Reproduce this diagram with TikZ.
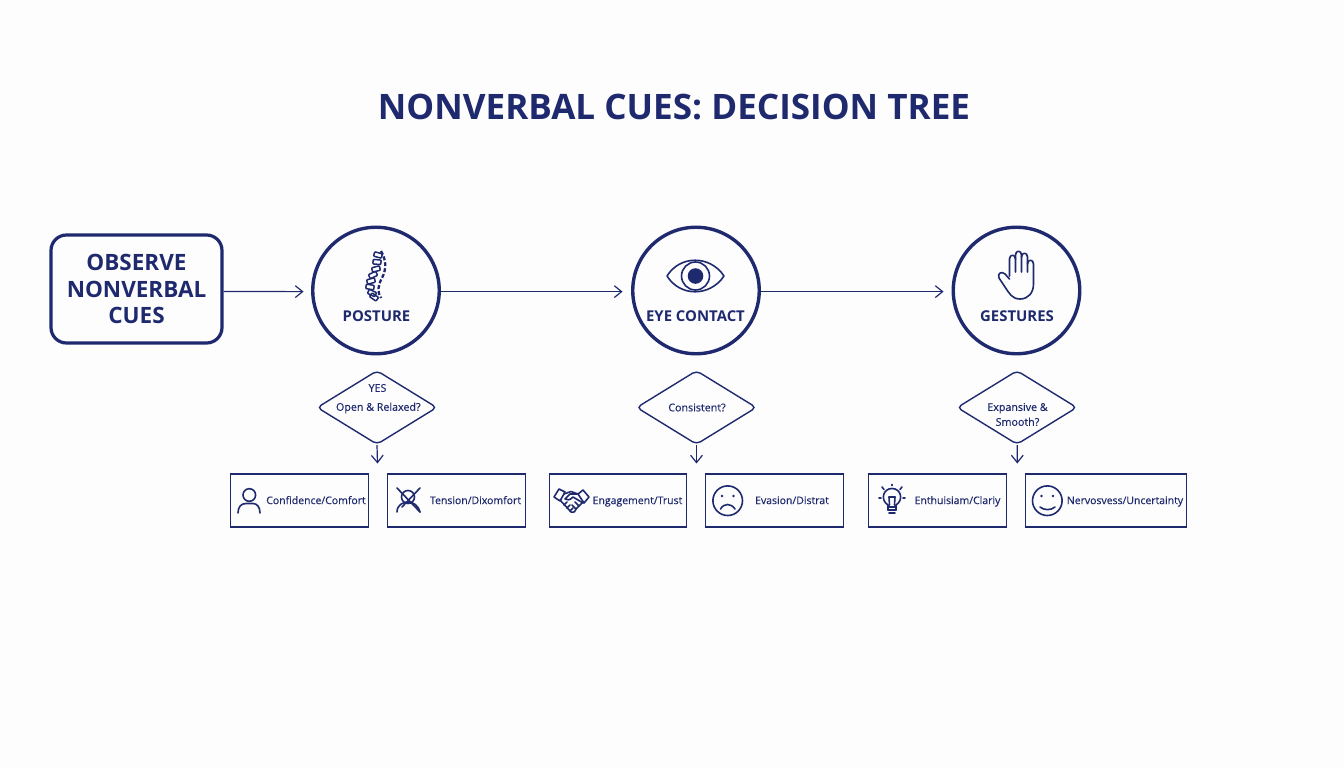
\documentclass[tikz,border=0pt]{standalone}
\usepackage{xcolor}
\usepackage{fontspec}
\setmainfont{Open Sans}
\newfontfamily\labelfont[FakeBold=0.35]{Open Sans}
\usetikzlibrary{shapes.geometric,arrows.meta}

\definecolor{navy}{HTML}{1F2A6E}
\definecolor{paper}{HTML}{FDFDFE}
\newcommand{\pxu}{0.0125cm}

\tikzset{
    cue/.style={circle,draw=navy,line width=3.4*\pxu,minimum size=126.5*\pxu,inner sep=0pt},
    question/.style={diamond,draw=navy,line width=1.4*\pxu,rounded corners=1.6pt,aspect=1.63,
        minimum width=120*\pxu,minimum height=74*\pxu,inner sep=0pt},
    questiontext/.style={text=navy,inner sep=0pt,align=center,font=\labelfont\fontsize{3.8}{5.3}\selectfont},
    outcome/.style={rectangle,draw=navy,line width=1.35*\pxu,minimum height=53*\pxu,inner sep=0pt},
    outcometext/.style={text=navy,inner sep=0pt,text height=3pt,text depth=0.8pt,font=\labelfont\fontsize{3.72}{5}\selectfont},
    cuetext/.style={text=navy,inner sep=0pt,font=\fontsize{5.3}{6}\selectfont\bfseries},
    flow/.style={draw=navy,line width=1.2*\pxu,-{Straight Barb[length=2.6pt,width=4.2pt]}},
    icon/.style={draw=navy,line width=1.6*\pxu,line cap=round,line join=round},
    vertebra/.style={draw=navy,line width=1.5*\pxu,rectangle,rounded corners=0.3pt,
        minimum width=8*\pxu,minimum height=4.5*\pxu,inner sep=0pt}
}

\begin{document}
\begin{tikzpicture}[x=\pxu,y=-\pxu]
    \fill[paper] (0,0) rectangle (1344,768);
    \useasboundingbox (0,0) rectangle (1344,768);

    \node[text=navy,inner sep=0pt,font=\fontsize{12.47}{14}\selectfont\bfseries] (title) at (674,107) {NONVERBAL CUES: DECISION TREE};

    \node[draw=navy,line width=3.2*\pxu,rounded corners=5.5pt,minimum width=171*\pxu,minimum height=108*\pxu,
        inner sep=0pt,text=navy,align=center,font=\fontsize{8}{9.5}\selectfont\bfseries] (start) at (136.5,289) {OBSERVE\\NONVERBAL\\CUES};

    % the three cues
    \node[cue] (posture) at (376,290.5) {};
    \node[cue] (eyecontact) at (696,290.5) {};
    \node[cue] (gestures) at (1016.5,290.5) {};
    \node[cuetext] (posturetext) at (376.5,316) {POSTURE};
    \node[cuetext] (eyetext) at (695.5,316) {EYE CONTACT};
    \node[cuetext] (gesturestext) at (1017,316) {GESTURES};

    \draw[flow,shorten >=7.5*\pxu] ([yshift=-0.9pt]start.east) -- ([yshift=-0.4pt]posture.west);
    \draw[flow,shorten >=8.5*\pxu] ([yshift=-0.4pt]posture.east) -- ([yshift=-0.4pt]eyecontact.west);
    \draw[flow,shorten >=8*\pxu] ([yshift=-0.4pt]eyecontact.east) -- ([yshift=-0.4pt]gestures.west);

    % questions
    \node[question] (postureq) at (377,407.5) {};
    \node[question] (eyeq) at (696.5,407.5) {};
    \node[question] (gesturesq) at (1017,407.5) {};
    \node[questiontext] (yes) at (377.5,388) {YES};
    \node[questiontext] (posturetext2) at (378.3,408) {Open \& Relaxed?};
    \node[questiontext] (eyetext2) at (697,407.5) {Consistent?};
    \node[questiontext] (gesturestext2) at (1017.5,414.5) {Expansive \&\\Smooth?};

    \coordinate (posturedown) at (377.5,463.5);
    \coordinate (eyedown) at (696.5,463.5);
    \coordinate (gesturesdown) at (1017.3,463.5);
    \draw[flow] (postureq.south) -- (posturedown);
    \draw[flow] (eyeq.south) -- (eyedown);
    \draw[flow] ([xshift=0.1pt]gesturesq.south) -- (gesturesdown);

    % outcomes
    \node[outcome,minimum width=138.5*\pxu] (confidence) at (299.5,500.5) {};
    \node[outcome,minimum width=137.5*\pxu] (tension) at (456.5,500.5) {};
    \node[outcome,minimum width=137.5*\pxu] (engagement) at (618,500.5) {};
    \node[outcome,minimum width=137.5*\pxu] (evasion) at (774.5,500.5) {};
    \node[outcome,minimum width=138*\pxu] (enthusiasm) at (937.5,500.5) {};
    \node[outcome,minimum width=160.5*\pxu] (nervousness) at (1106,500.5) {};
    \node[outcometext] (confidencetext) at (316,501) {Confidence/Comfort};
    \node[outcometext] (tensiontext) at (475.5,501) {Tension/Dixomfort};
    \node[outcometext] (engagementtext) at (637.5,501) {Engagement/Trust};
    \node[outcometext] (evasiontext) at (792,501) {Evasion/Distrat};
    \node[outcometext] (enthusiasmtext) at (957.5,501) {Enthuisiam/Clariy};
    \node[outcometext] (nervousnesstext) at (1125,501) {Nervosvess/Uncertainty};

    % spine
    \node[vertebra,rotate=-15] (v1) at (378,255) {};
    \node[vertebra,rotate=-5] (v2) at (377,262) {};
    \node[vertebra,rotate=15] (v3) at (376,269) {};
    \node[vertebra,rotate=25] (v4) at (373,275) {};
    \node[vertebra,rotate=15] (v5) at (371,281) {};
    \node[vertebra,rotate=-10] (v6) at (370,287) {};
    \node[vertebra,rotate=-25] (v7) at (372,293) {};
    \node[vertebra,rotate=-35] (v8) at (374,297) {};
    \draw[icon,line width=2.3*\pxu,line cap=butt,dash pattern=on 4*\pxu off 2*\pxu] (381,251) .. controls (386,260) and (387,268) .. (382,278) .. controls (378,285) and (377,292) .. (381,298);

    % eye
    \draw[icon] (667,276) .. controls (680,255) and (710,255) .. (724,276) .. controls (710,297) and (680,297) .. (667,276) -- cycle;
    \draw[icon] (695.5,276) circle (14);
    \fill[navy] (695.5,276) circle (7.8);

    % hand
    \draw[icon] (1009.5,276) -- (1009.5,259) .. controls (1009.5,254) and (1015.5,254) .. (1015.5,259) -- (1015.5,272);
    \draw[icon] (1015.5,259) -- (1015.5,255) .. controls (1015.5,250) and (1021.5,250) .. (1021.5,255) -- (1021.5,272);
    \draw[icon] (1021.5,257) .. controls (1021.5,252) and (1027.5,252) .. (1027.5,257) -- (1027.5,272);
    \draw[icon] (1027.5,264) .. controls (1027.5,259) and (1033.5,259) .. (1033.5,264) -- (1033.5,284) .. controls (1033.5,293) and (1028,299) .. (1020,299) .. controls (1012,299) and (1009,293) .. (1005,287) -- (999,278) .. controls (997,273) and (1002,271) .. (1005,274) -- (1009.5,279);

    % person
    \draw[icon] (249.3,495) circle (6.3);
    \draw[icon] (238,513) .. controls (238,507) and (241,503.5) .. (246,503.5) -- (253,503.5) .. controls (257,503.5) and (260,507) .. (260,513);

    % crossed person
    \draw[icon] (408,497) circle (6.5);
    \draw[icon] (397,488) -- (420,512);
    \draw[icon] (420,488) -- (402,507);
    \draw[icon] (397,512) .. controls (397,505) and (403,502) .. (408,502) .. controls (413,502) and (418,505) .. (420,512);

    % handshake
    \draw[icon] (554,497) -- (559,489) -- (565,492) -- (560,501) -- cycle;
    \draw[icon] (583,490) -- (589,497) -- (584,503) -- (578,494) -- cycle;
    \draw[icon] (564,494) -- (571,491.5) -- (578,494);
    \draw[icon] (560,500) -- (571,512) .. controls (574,513) and (576,511) .. (576,509) -- (583,502);
    \draw[icon] (577,494) -- (570,494) -- (565,499) .. controls (567,501) and (570,500) .. (573,497) -- (583,503);
    \draw[icon] (564,505) -- (567,502);
    \draw[icon] (567,508) -- (570,505);
    \draw[icon] (570,511) -- (573,508);
    \draw[icon] (579,506) -- (575,502);
    \draw[icon] (576,509) -- (572,505);

    % sad face
    \draw[icon] (727.7,500.7) circle (14.8);
    \fill[navy] (722,496) circle (1.3);
    \fill[navy] (733.5,496) circle (1.3);
    \draw[icon] (720.5,509) .. controls (724,503) and (731,503) .. (735,509);

    % light bulb
    \draw[icon] (888,510) -- (888,505) .. controls (880,500) and (883,488.5) .. (892,488.5) .. controls (901,488.5) and (904,500) .. (896,505) -- (896,510);
    \draw[icon] (889,497) -- (889.5,505);
    \draw[icon] (895,497) -- (894.5,505);
    \draw[icon] (889,497) -- (895,497);
    \draw[icon] (888,507) -- (896,507);
    \draw[icon] (888,510) -- (896,510);
    \draw[icon] (889,513) -- (895,513);
    \draw[icon] (892,484.5) -- (892,485.5);
    \draw[icon] (882,487) -- (884,489.5);
    \draw[icon] (902,487) -- (900,489.5);
    \draw[icon] (879,498) -- (881,498);
    \draw[icon] (903,498) -- (905,498);

    % smiling face
    \draw[icon] (1047.3,500.7) circle (14.8);
    \fill[navy] (1041.5,496) circle (1.3);
    \fill[navy] (1053,496) circle (1.3);
    \draw[icon] (1040,507) .. controls (1044,510.5) and (1051,510.5) .. (1055,507);
\end{tikzpicture}
\end{document}
